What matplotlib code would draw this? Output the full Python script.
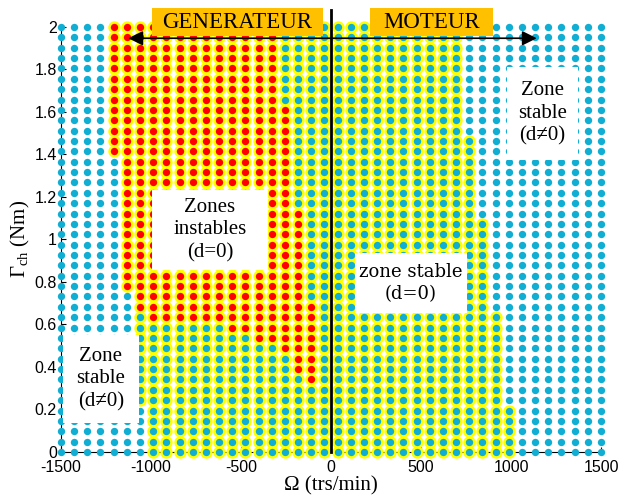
import numpy as np
import matplotlib.pyplot as plt
from matplotlib.patches import Rectangle

plt.rcParams['axes.unicode_minus'] = False
plt.rcParams['mathtext.fontset'] = 'custom'
plt.rcParams['mathtext.rm'] = 'Liberation Serif'
plt.rcParams['mathtext.it'] = 'Liberation Serif:italic'

# grille de calcul : vitesse (trs/min) x couple de charge (Nm), 42 x 42 points
omega = np.linspace(-1500, 1500, 42)
torque = np.linspace(0, 2, 42)

# pour chaque colonne de vitesse : lignes (indices de couple) ou d=0 (halo jaune)
d0_lo = [-1, -1, -1, -1, 29, 16, 5] + [0] * 13 + [0] * 11 + [0, 0, 0, 0] + [-1] * 7
d0_hi = [-1, -1, -1, -1, 41, 41, 41] + [41] * 13 + [41] * 11 + [30, 22, 13, 4] + [-1] * 7
# ... et lignes instables (point rouge)
red_lo = [-1] * 4 + [29, 16, 14] + [13] * 6 + [12, 12, 11, 11, 10, 8, 7] + [-1] * 22
red_hi = [-1] * 4 + [41, 41, 41] + [41] * 10 + [33, 23, 14] + [-1] * 22

xticks = [-1500, -1000, -500, 0, 500, 1000, 1500]
yticks = [0, 0.2, 0.4, 0.6, 0.8, 1, 1.2, 1.4, 1.6, 1.8, 2]

rows = np.arange(len(torque))
halo = np.array([(rows >= lo) & (rows <= hi) for lo, hi in zip(d0_lo, d0_hi)])
red = np.array([(rows >= lo) & (rows <= hi) for lo, hi in zip(red_lo, red_hi)])
X, Y = np.meshgrid(omega, torque, indexing='ij')

cyan = '#10AED2'
serif = ['Liberation Serif', 'DejaVu Serif']

fig = plt.figure(figsize=(6.21, 4.95), dpi=100)
ax = fig.add_axes([0.0982, 0.0869, 0.8696, 0.8586])

ax.scatter(X[halo], Y[halo], s=80, c='#FFFF00', lw=0, zorder=3, clip_on=False)
ax.scatter(X[~red], Y[~red], s=28, c=cyan, lw=0, zorder=4, clip_on=False)
ax.scatter(X[red], Y[red], s=28, c='#FF0000', lw=0, zorder=4, clip_on=False)

ax.set_xlim(-1500, 1500)
ax.set_ylim(0, 2)
ax.set_xticks(xticks)
ax.set_yticks(yticks)
ax.set_yticklabels([f'{v:g}' for v in yticks])
for s in ['top', 'right']:
    ax.spines[s].set_visible(False)
ax.tick_params(direction='in', length=3.5, width=0.8)
ax.tick_params(axis='x', pad=6)
ax.tick_params(axis='y', pad=3)
for lab in ax.get_xticklabels() + ax.get_yticklabels():
    lab.set_family('Liberation Sans')
    lab.set_fontsize(11.5)

ax.set_xlabel('Ω (trs/min)', family=serif, fontsize=15, labelpad=1)
ax.set_ylabel(r'$\Gamma_{\rm ch}$ (Nm)', family=serif, fontsize=15, labelpad=2)

# axe vertical a vitesse nulle
ax.plot([0, 0], [0, 2.08], color='k', lw=2, zorder=5, clip_on=False)

# zones de texte blanches
boxes = [
    ((-994, 0.856), 644, 0.377, 'Zones\ninstables\n(d=0)', serif, 15),
    ((133, 0.654), 623, 0.282, 'zone stable\n(d=0)', ['DejaVu Serif'], 13),
    ((978, 1.374), 394, 0.438, 'Zone\nstable\n(d≠0)', serif, 15),
    ((-1489, 0.136), 422, 0.415, 'Zone\nstable\n(d≠0)', serif, 15),
]
for (x0, y0), w, h, txt, fam, fs in boxes:
    ax.add_patch(Rectangle((x0, y0), w, h, fc='white', ec='none', zorder=6))
    ax.text(x0 + w / 2, y0 + h / 2, txt, ha='center', va='center', family=fam,
            fontsize=fs, linespacing=1.25, zorder=7)

# bandeaux GENERATEUR / MOTEUR et fleche
for x0, w, txt in [(-996, 950, 'GENERATEUR'), (217, 681, 'MOTEUR')]:
    ax.add_patch(Rectangle((x0, 1.958), w, 0.13, fc='#FFC000', ec='none',
                           zorder=6, clip_on=False))
    ax.text(x0 + w / 2, 2.023, txt, ha='center', va='center', family=serif,
            fontsize=16.5, zorder=7, clip_on=False)
ax.annotate('', xy=(1143, 1.947), xytext=(-1126, 1.947),
            arrowprops=dict(arrowstyle='<|-|>', color='k', lw=1.2,
                            mutation_scale=22, shrinkA=0, shrinkB=0),
            annotation_clip=False, zorder=8)

fig.savefig('out.png', dpi=100)
